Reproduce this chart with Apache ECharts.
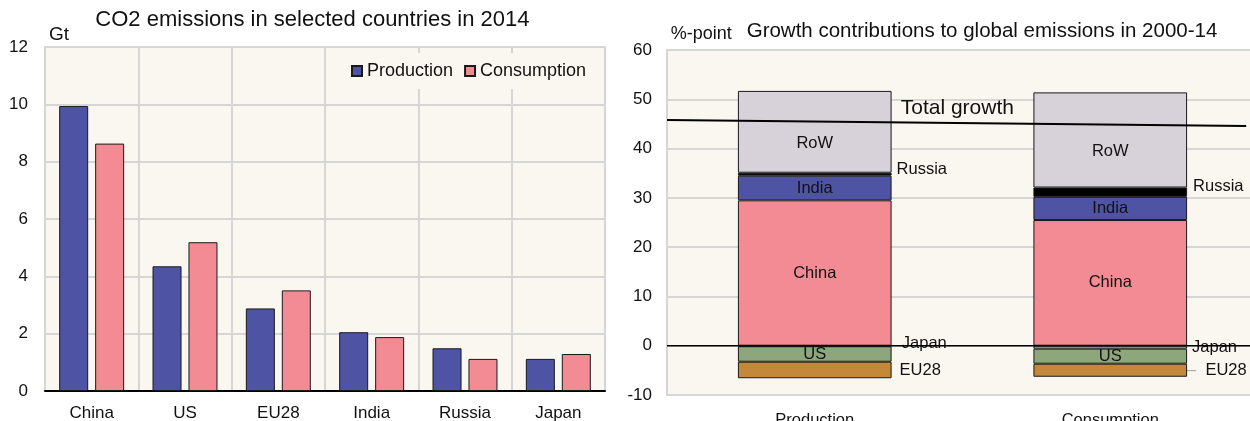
<!DOCTYPE html>
<html>
<head>
<meta charset="utf-8">
<script src="https://cdn.jsdelivr.net/npm/echarts@6/dist/echarts.min.js"></script>
<style>
html,body{margin:0;padding:0;background:#fff;overflow:hidden;}
#chart{width:1250px;height:421px;}
</style>
</head>
<body>
<div id="chart"></div>
<script>
// ---- Left panel data: CO2 emissions in 2014 (Gt)
const countries = ['China', 'US', 'EU28', 'India', 'Russia', 'Japan'];
const production = [9.94, 4.35, 2.88, 2.05, 1.49, 1.12];
const consumption = [8.63, 5.19, 3.51, 1.88, 1.12, 1.29];

// ---- Right panel data: growth contributions 2000-14 (%-point)
const perspectives = ['Production', 'Consumption'];
const contribChina = [29.5, 25.5];
const contribIndia = [5.0, 4.7];
const contribRussia = [0.6, 1.9];
const contribRoW = [16.6, 19.3];
const contribJapan = [-0.1, -0.6];
const contribUS = [-3.15, -3.05];
const contribEU28 = [-3.35, -2.65];
const totalGrowthEnds = [45.8, 44.6];
const totalGrowthXs = [0, 0.98];
const zeroLineVals = [0, 0];
const zeroLineXs = [0, 1];

const FONT = '"Liberation Sans", Arial, sans-serif';
const BG = '#FAF6F0';
const GRIDC = '#D6D6D6';
const BLUE = '#4E54A3';
const PINK = '#F28B93';
const EDGE = '#1a1a1a';
const TXT = '#111';

const chart = echarts.init(document.getElementById('chart'));

function stackSeries(name, data, color, label) {
  return {
    type: 'bar', name: name, stack: 'g', xAxisIndex: 1, yAxisIndex: 1,
    barWidth: '52%',
    data: data,
    itemStyle: { color: color, borderColor: EDGE, borderWidth: 1 },
    label: Object.assign({ show: true, formatter: '{a}', fontSize: 16.5, color: TXT, fontFamily: FONT }, label)
  };
}

function withLabels(values, labels) {
  return values.map((v, i) => ({ value: v, label: labels[i] }));
}

const option = {
  animation: false,
  textStyle: { fontFamily: FONT },
  grid: [
    { left: 45, top: 47, width: 560, height: 344, show: true, backgroundColor: BG, borderColor: GRIDC, borderWidth: 2, outerBoundsMode: 'none', containLabel: false },
    { left: 667, top: 50, width: 591, height: 345, show: true, backgroundColor: BG, borderColor: GRIDC, borderWidth: 2, outerBoundsMode: 'none', containLabel: false }
  ],
  legend: {
    data: ['Production', 'Consumption'],
    left: 341, top: 53,
    padding: [9, 10, 9, 10],
    backgroundColor: BG,
    itemWidth: 10, itemHeight: 10, itemGap: 11,
    icon: 'rect',
    textStyle: { fontSize: 18, color: TXT, fontFamily: FONT }
  },
  xAxis: [
    { gridIndex: 0, type: 'category', data: countries,
      axisLine: { lineStyle: { color: '#000', width: 2 } }, axisTick: { show: false },
      axisLabel: { fontSize: 17, color: TXT, margin: 14 },
      splitLine: { show: true, lineStyle: { color: GRIDC, width: 2 } } },
    { gridIndex: 1, type: 'category', data: perspectives,
      axisLine: { show: false, onZero: false }, axisTick: { show: false },
      axisLabel: { fontSize: 16.5, color: TXT, margin: 16.5 } },
    { gridIndex: 1, type: 'value', min: 0, max: 1, show: false }
  ],
  yAxis: [
    { gridIndex: 0, type: 'value', min: 0, max: 12, interval: 2,
      axisLine: { show: false }, axisTick: { show: false },
      axisLabel: { fontSize: 17, color: TXT, margin: 17 },
      splitLine: { lineStyle: { color: GRIDC, width: 2 } } },
    { gridIndex: 1, type: 'value', min: -10, max: 60, interval: 10,
      axisLine: { show: false }, axisTick: { show: false },
      axisLabel: { fontSize: 17, color: TXT, margin: 15 },
      splitLine: { lineStyle: { color: GRIDC, width: 2 } } }
  ],
  series: [
    { type: 'bar', name: 'Production', xAxisIndex: 0, yAxisIndex: 0, data: production,
      barWidth: 29, barGap: '24%',
      itemStyle: { color: BLUE, borderColor: EDGE, borderWidth: 1 } },
    { type: 'bar', name: 'Consumption', xAxisIndex: 0, yAxisIndex: 0, data: consumption,
      barWidth: 29, barGap: '24%',
      itemStyle: { color: PINK, borderColor: EDGE, borderWidth: 1 } },

    stackSeries('China', contribChina, PINK, { position: 'inside' }),
    stackSeries('India', contribIndia, BLUE, { position: 'inside' }),
    Object.assign(stackSeries('Russia', [], '#000', { position: 'right' }),
      { data: withLabels(contribRussia, [{ distance: 5, offset: [0, -5] }, { distance: 6, offset: [0, -6] }]) }),
    stackSeries('RoW', contribRoW, '#D7D1D9', { position: 'inside', offset: [0, 12] }),
    Object.assign(stackSeries('Japan', [], '#8FD0DD', { position: 'right' }),
      { data: withLabels(contribJapan, [{ distance: 10, offset: [0, -3] }, { distance: 5, offset: [0, 0] }]) }),
    stackSeries('US', contribUS, '#8DA67B', { position: 'inside' }),
    Object.assign(stackSeries('EU28', [], '#C4883A', { position: 'right' }),
      { data: withLabels(contribEU28, [
        { distance: 8 },
        { distance: 0, formatter: '{d|–}  {a}', rich: { d: { color: '#aaa', fontSize: 16.5 } } }
      ]) }),

    { type: 'line', name: 'zero', xAxisIndex: 2, yAxisIndex: 1, z: 5, symbol: 'none', silent: true,
      data: zeroLineXs.map((x, i) => [x, zeroLineVals[i]]),
      lineStyle: { color: '#000', width: 1.5 } },
    { type: 'line', name: 'Total growth', xAxisIndex: 2, yAxisIndex: 1, z: 6, symbol: 'none', silent: true,
      data: totalGrowthXs.map((x, i) => [x, totalGrowthEnds[i]]),
      lineStyle: { color: '#000', width: 2 } }
  ],
  graphic: [
    { type: 'text', x: 312.4, y: 19.5, style: { text: 'CO2 emissions in selected countries in 2014', fontSize: 22, fontFamily: FONT, fill: TXT, align: 'center', verticalAlign: 'middle' } },
    { type: 'text', x: 49, y: 35, style: { text: 'Gt', fontSize: 19, fontFamily: FONT, fill: TXT, align: 'left', verticalAlign: 'middle' } },
    { type: 'text', x: 746.7, y: 31.5, style: { text: 'Growth contributions to global emissions in 2000-14', fontSize: 20.5, fontFamily: FONT, fill: TXT, align: 'left', verticalAlign: 'middle' } },
    { type: 'text', x: 670.7, y: 34, style: { text: '%-point', fontSize: 18, fontFamily: FONT, fill: TXT, align: 'left', verticalAlign: 'middle' } },
    { type: 'text', x: 900.7, y: 108, z: 10, style: { text: 'Total growth', fontSize: 21, fontFamily: FONT, fill: TXT, align: 'left', verticalAlign: 'middle' } }
  ]
};
chart.setOption(option);
</script>
</body>
</html>
